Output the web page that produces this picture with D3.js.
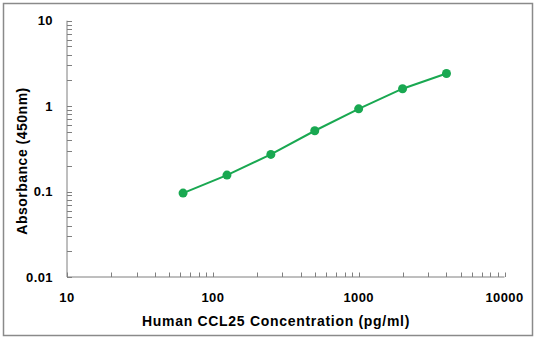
<!DOCTYPE html>
<html><head><meta charset="utf-8">
<script src="https://cdn.jsdelivr.net/npm/d3@7"></script>
<style>body{margin:0;background:#fff}svg{display:block}text{font-family:"Liberation Sans",Arial,sans-serif;font-weight:bold;fill:#000}</style>
</head><body>
<script>
const concentrations = [62.5, 125, 250, 500, 1000, 2000, 4000];
const absorbance = [0.096, 0.156, 0.272, 0.515, 0.93, 1.6, 2.41];
const xTickLabels = [10, 100, 1000, 10000];
const yTickLabels = [0.01, 0.1, 1, 10];
const xTitle = "Human CCL25 Concentration (pg/ml)";
const yTitle = "Absorbance (450nm)";

const W = 535, H = 338;
const svg = d3.select("body").append("svg").attr("width", W).attr("height", H);
svg.append("rect").attr("x", 3.5).attr("y", 3.5).attr("width", 529).attr("height", 332)
  .attr("fill", "none").attr("stroke", "#8a8a8a").attr("stroke-width", 1.5);

const x = d3.scaleLog().domain([10, 10000]).range([67, 504.5]);
const y = d3.scaleLog().domain([0.01, 10]).range([277, 20.7]);
const green = "#19a851";

const axisColor = "#7f7f7f";
svg.append("line").attr("x1", 67).attr("x2", 504.5).attr("y1", 277).attr("y2", 277).attr("stroke", axisColor);
svg.append("line").attr("x1", 67).attr("x2", 67).attr("y1", 277).attr("y2", 20.7).attr("stroke", axisColor);

const xt = [], yt = [];
for (let d = 10; d < 10000; d *= 10) for (let k = 1; k < 10; k++) xt.push(d * k);
xt.push(10000);
for (let d = 0.01; d < 10; d *= 10) for (let k = 1; k < 10; k++) yt.push(+(d * k).toPrecision(3));
yt.push(10);
svg.append("g").selectAll("line").data(xt).join("line")
  .attr("x1", d => Math.round(x(d)) + 0.5).attr("x2", d => Math.round(x(d)) + 0.5)
  .attr("y1", 277).attr("y2", 272.5).attr("stroke", axisColor);
svg.append("g").selectAll("line").data(yt).join("line")
  .attr("y1", d => Math.round(y(d)) + 0.5).attr("y2", d => Math.round(y(d)) + 0.5)
  .attr("x1", 67).attr("x2", 72).attr("stroke", axisColor);

svg.append("g").selectAll("text").data(xTickLabels).join("text")
  .attr("x", d => x(d)).attr("y", 302).attr("text-anchor", "middle")
  .attr("font-size", 13).attr("letter-spacing", 0.4).text(d => d);
svg.append("g").selectAll("text").data(yTickLabels).join("text")
  .attr("x", 53).attr("y", d => y(d) + 4.5).attr("text-anchor", "end")
  .attr("font-size", 13).attr("letter-spacing", 0.4).text(d => d);

svg.append("text").attr("x", 276).attr("y", 326).attr("text-anchor", "middle")
  .attr("font-size", 14).attr("letter-spacing", 0.7).text(xTitle);
svg.append("text").attr("transform", "translate(27,161) rotate(-90)")
  .attr("text-anchor", "middle").attr("font-size", 14).attr("letter-spacing", 0.5).text(yTitle);

const pts = concentrations.map((c, i) => [c, absorbance[i]]);
svg.append("path").datum(pts)
  .attr("d", d3.line().x(d => x(d[0])).y(d => y(d[1])))
  .attr("fill", "none").attr("stroke", green).attr("stroke-width", 2);
svg.append("g").selectAll("circle").data(pts).join("circle")
  .attr("cx", d => x(d[0])).attr("cy", d => y(d[1])).attr("r", 4.5).attr("fill", green);
</script>
</body></html>
